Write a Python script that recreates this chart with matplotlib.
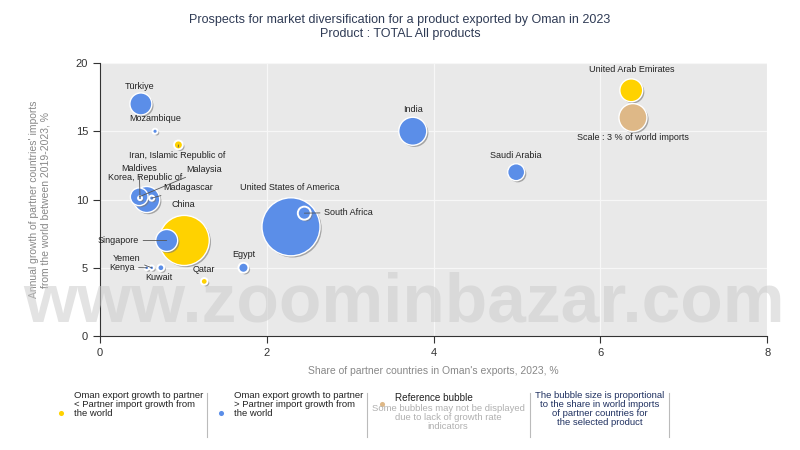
import matplotlib.pyplot as plt
import matplotlib.patheffects as pe

plt.rcParams['font.family'] = ['Liberation Sans', 'DejaVu Sans']

# data
countries = ['United States of America', 'China', 'Korea, Republic of', 'India', 'Singapore',
             'United Arab Emirates', 'Türkiye', 'Malaysia', 'Saudi Arabia', 'South Africa',
             'Egypt', 'Iran, Islamic Republic of', 'Kuwait', 'Qatar', 'Mozambique',
             'Madagascar', 'Kenya', 'Yemen', 'Maldives']
share_exports = [2.29, 1.01, 0.56, 3.75, 0.80, 6.37, 0.49, 0.47, 4.99, 2.45,
                 1.72, 0.94, 0.73, 1.25, 0.66, 0.62, 0.56, 0.62, 0.48]
import_growth = [8.0, 7.0, 10.0, 15.0, 7.0, 18.0, 17.0, 10.2, 12.0, 9.0,
                 5.0, 14.0, 5.0, 4.0, 15.0, 10.1, 5.0, 5.0, 10.1]
world_share = [12.9, 9.6, 2.6, 3.0, 1.85, 2.0, 1.85, 1.2, 1.1, 0.65,
               0.38, 0.3, 0.17, 0.17, 0.1, 0.1, 0.08, 0.08, 0.06]
oman_faster = [False, True, False, False, False, True, False, False, False, False,
               False, True, False, True, False, False, False, False, False]
ref_x, ref_y, ref_share = 6.39, 16.0, 3.0

# label placement (x, y in data units), leader line or not
label_pos = {
    'United States of America': (2.27, 10.85, False),
    'China': (1.0, 9.6, False),
    'Korea, Republic of': (0.54, 11.6, False),
    'India': (3.75, 16.6, False),
    'Singapore': (0.22, 7.0, True),
    'United Arab Emirates': (6.37, 19.5, False),
    'Türkiye': (0.48, 18.3, False),
    'Malaysia': (1.25, 12.2, True),
    'Saudi Arabia': (4.98, 13.2, False),
    'South Africa': (2.98, 9.05, True),
    'Egypt': (1.72, 6.0, False),
    'Iran, Islamic Republic of': (0.93, 13.2, True),
    'Kuwait': (0.71, 4.27, False),
    'Qatar': (1.25, 4.84, False),
    'Mozambique': (0.66, 15.9, False),
    'Madagascar': (1.06, 10.85, True),
    'Kenya': (0.26, 5.03, True),
    'Yemen': (0.32, 5.7, True),
    'Maldives': (0.47, 12.3, True),
}

BLUE = '#5b8ee8'
YELLOW = '#ffd200'
TAN = '#deb887'
k = (2 * 14 * 0.72) ** 2 / 3  # marker area per % of world imports

fig = plt.figure(figsize=(8, 4.5), dpi=100)
ax = fig.add_axes([0.125, 0.2533, 0.834, 0.6067])
ax.set_facecolor('#e9e9e9')
ax.set_xlim(0, 8)
ax.set_ylim(0, 20)
ax.set_xticks([0, 2, 4, 6, 8])
ax.set_yticks([0, 5, 10, 15, 20])
ax.grid(True, color='#f7f7f7', lw=0.9)
ax.set_axisbelow(True)
for s in ['top', 'right']:
    ax.spines[s].set_visible(False)
for s in ['left', 'bottom']:
    ax.spines[s].set_color('#333333')
ax.tick_params(labelsize=8, colors='#333333', length=5)

shadow = [pe.SimplePatchShadow(offset=(1.2, -1.2), shadow_rgbFace='#777777', alpha=0.6), pe.Normal()]

order = sorted(range(len(countries)), key=lambda i: -world_share[i])
for i in order:
    c = YELLOW if oman_faster[i] else BLUE
    lw = 1.4 if world_share[i] < 0.7 else 1.0
    sc = ax.scatter(share_exports[i], import_growth[i], s=k * world_share[i], color=c,
                    edgecolor='white', linewidth=lw, zorder=3)
    sc.set_path_effects(shadow)

sc = ax.scatter(ref_x, ref_y, s=k * ref_share, color=TAN, edgecolor='white', linewidth=1, zorder=3)
sc.set_path_effects(shadow)
ax.text(ref_x, 14.55, 'Scale : 3 % of world imports', ha='center', va='center', fontsize=6.5,
        color='#222222', zorder=5)

for i, name in enumerate(countries):
    tx, ty, leader = label_pos[name]
    if leader:
        ax.annotate(name, xy=(share_exports[i], import_growth[i]), xytext=(tx, ty),
                    ha='center', va='center', fontsize=6.5, color='#222222', zorder=5,
                    arrowprops=dict(arrowstyle='-', color='#555555', lw=0.6,
                                    shrinkA=1, shrinkB=0))
    else:
        ax.text(tx, ty, name, ha='center', va='center', fontsize=6.5, color='#222222', zorder=5)

ax.set_xlabel("Share of partner countries in Oman's exports, 2023, %", fontsize=7.5,
              color='#888888', labelpad=6)
ax.set_ylabel("Annual growth of partner countries' imports\nfrom the world between 2019-2023, %",
              fontsize=7.5, color='#888888', labelpad=18)

fig.text(0.5, 0.94, 'Prospects for market diversification for a product exported by Oman in 2023\n'
         'Product : TOTAL All products', ha='center', va='center', fontsize=9,
         color='#2f3b55', linespacing=1.25)

# overlay for watermark and bottom legend strip (figure fraction coords)
ov = fig.add_axes([0, 0, 1, 1], zorder=10)
ov.set_xlim(0, 1)
ov.set_ylim(0, 1)
ov.axis('off')

ov.text(0.505, 0.325, 'www.zoominbazar.com', ha='center', va='center', fontsize=50,
        fontweight='bold', color='#cccccc', alpha=0.55)

fs = 6.8
ov.scatter([0.076], [1 - 413 / 450], s=22, color=YELLOW, edgecolor='white')
ov.text(0.092, 1 - 391 / 450, 'Oman export growth to partner\n< Partner import growth from\nthe world',
        ha='left', va='top', fontsize=fs, color='#222222', linespacing=1.0)
ov.scatter([0.276], [1 - 413 / 450], s=22, color=BLUE, edgecolor='white')
ov.text(0.292, 1 - 391 / 450, 'Oman export growth to partner\n> Partner import growth from\nthe world',
        ha='left', va='top', fontsize=fs, color='#222222', linespacing=1.0)
ov.scatter([0.477], [1 - 404 / 450], s=22, color=TAN, edgecolor='white')
ov.text(0.494, 1 - 398 / 450, 'Reference bubble', ha='left', va='center', fontsize=fs + 0.3,
        color='#222222')
ov.text(0.56, 1 - 404 / 450, 'Some bubbles may not be displayed\ndue to lack of growth rate\nindicators',
        ha='center', va='top', fontsize=fs, color='#b0b0b0', linespacing=1.0)
ov.text(0.75, 1 - 391 / 450, 'The bubble size is proportional\nto the share in world imports\n'
        'of partner countries for\nthe selected product',
        ha='center', va='top', fontsize=fs, color='#1f3060', linespacing=1.0)
for xs in [0.259, 0.459, 0.662, 0.836]:
    ov.plot([xs, xs], [1 - 437 / 450, 1 - 393 / 450], color='#bbbbbb', lw=0.8)

fig.savefig('out.png', dpi=100)
